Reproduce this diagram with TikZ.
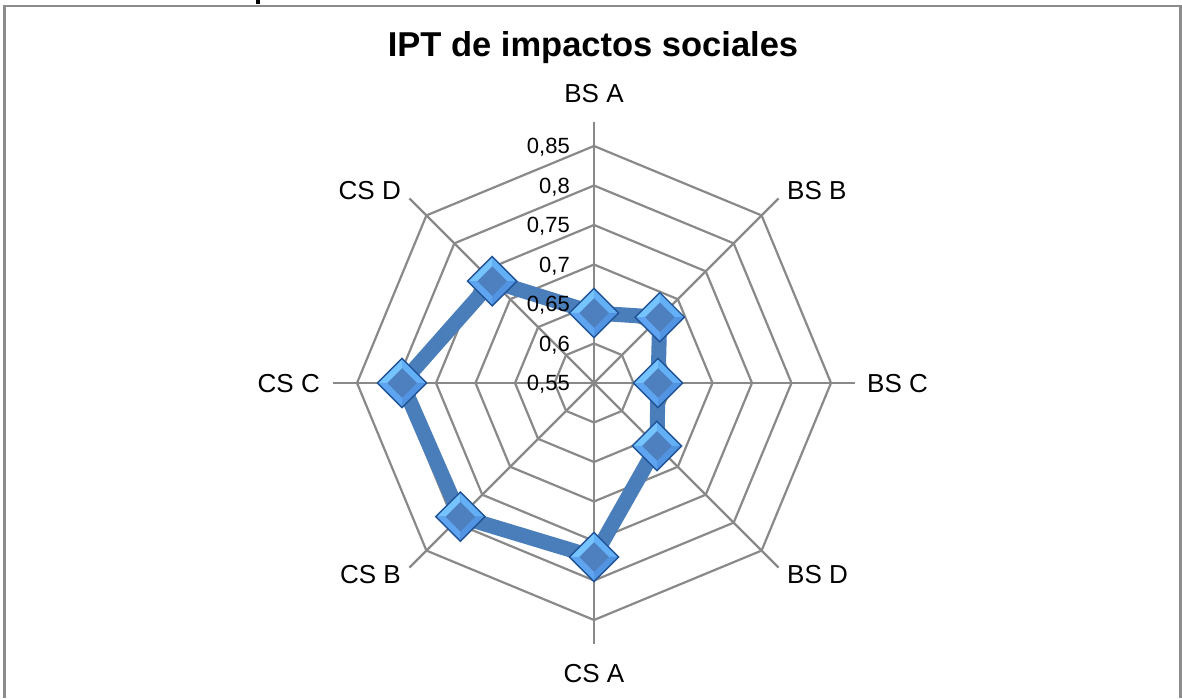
\documentclass[tikz,border=0pt]{standalone}
\usepackage{fontspec}
\setmainfont{Liberation Sans}
\usetikzlibrary{shapes.geometric,calc}
\definecolor{gridc}{RGB}{137,137,137}
\definecolor{linec}{RGB}{74,126,187}
\definecolor{mkedge}{RGB}{32,82,150}
\definecolor{mkc}{RGB}{78,128,192}
\definecolor{mktl}{RGB}{118,196,255}
\definecolor{mktr}{RGB}{100,176,246}
\definecolor{mkbr}{RGB}{82,148,226}
\definecolor{mkbl}{RGB}{94,164,240}
\definecolor{bordc}{RGB}{140,140,140}
\tikzset{
  gridline/.style={draw=gridc, line width=2.2pt},
  series/.style={draw=linec, line width=15pt, line join=round},
  mk/.style={diamond, aspect=1, minimum size=50pt, inner sep=0pt, fill=mkc,
    draw=mkedge, line width=1.4pt,
    path picture={
      \path (path picture bounding box.center) coordinate (mc);
      \fill[mktl] ($(mc)+(-25pt,0pt)$) -- ($(mc)+(0pt,25pt)$) -- ($(mc)+(0pt,15pt)$) -- ($(mc)+(-15pt,0pt)$) -- cycle;
      \fill[mktr] ($(mc)+(0pt,25pt)$) -- ($(mc)+(25pt,0pt)$) -- ($(mc)+(15pt,0pt)$) -- ($(mc)+(0pt,15pt)$) -- cycle;
      \fill[mkbr] ($(mc)+(25pt,0pt)$) -- ($(mc)+(0pt,-25pt)$) -- ($(mc)+(0pt,-15pt)$) -- ($(mc)+(15pt,0pt)$) -- cycle;
      \fill[mkbl] ($(mc)+(0pt,-25pt)$) -- ($(mc)+(-25pt,0pt)$) -- ($(mc)+(-15pt,0pt)$) -- ($(mc)+(0pt,-15pt)$) -- cycle;
    }},
  catlab/.style={font=\fontsize{26}{26}\selectfont, inner sep=0pt},
  vallab/.style={font=\fontsize{22}{22}\selectfont, inner sep=0pt, anchor=base east},
  charttitle/.style={font=\fontsize{34.5}{34.5}\selectfont\bfseries, inner sep=0pt, anchor=base},
  frame/.style={draw=bordc, line width=2.4pt}
}
\begin{document}
\begin{tikzpicture}[x=1pt,y=1pt]
\useasboundingbox (0,0) rectangle (1182,698);
% frame
\draw[frame] (4.3,0) -- (4.3,692) -- (1180.5,692) -- (1180.5,0);
\fill[black] (256,694) rectangle (260,698);
% title
\node[charttitle] (title) at (593,641) {IPT de impactos sociales};
\begin{scope}[shift={(594,315)}]
  % grid rings
  \foreach \k in {1,...,6}{
    \pgfmathsetmacro\rr{39.5*\k}
    \draw[gridline] (90:\rr) -- (45:\rr) -- (0:\rr) -- (-45:\rr) -- (-90:\rr) -- (-135:\rr) -- (180:\rr) -- (135:\rr) -- cycle;
  }
  % axes
  \coordinate (o) at (0,0);
  \foreach \a/\n in {90/a1,45/a2,0/a3,-45/a4,-90/a5,-135/a6,180/a7,135/a8}{
    \coordinate (\n) at (\a:261);
    \draw[gridline] (o) -- (\n);
  }
  % data
  \coordinate (d1) at (90:70);
  \coordinate (d2) at (45:93);
  \coordinate (d3) at (0:64);
  \coordinate (d4) at (-45:89);
  \coordinate (d5) at (-90:174);
  \coordinate (d6) at (-135:189);
  \coordinate (d7) at (180:192);
  \coordinate (d8) at (135:144);
  \draw[series] (d1) -- (d2) -- (d3) -- (d4) -- (d5) -- (d6) -- (d7) -- (d8) -- cycle;
  \foreach \i in {1,...,8}{
    \node[mk] (m\i) at (d\i) {};
  }
  % value labels
  \foreach \k/\t in {0/{0,55},1/{0,6},2/{0,65},3/{0,7},4/{0,75},5/{0,8},6/{0,85}}{
    \node[vallab] (v\k) at (-24,{39.5*\k-8}) {\t};
  }
\end{scope}
% category labels
\node[catlab, anchor=base] (cBSA) at (594,595) {BS A};
\node[catlab, anchor=base west] (cBSB) at (787,498) {BS B};
\node[catlab, anchor=base west] (cBSC) at (867,305) {BS C};
\node[catlab, anchor=base west] (cBSD) at (787,114) {BS D};
\node[catlab, anchor=base] (cCSA) at (594,16) {CS A};
\node[catlab, anchor=base east] (cCSB) at (401,114) {CS B};
\node[catlab, anchor=base east] (cCSC) at (320,305) {CS C};
\node[catlab, anchor=base east] (cCSD) at (401,498) {CS D};
\end{tikzpicture}
\end{document}
